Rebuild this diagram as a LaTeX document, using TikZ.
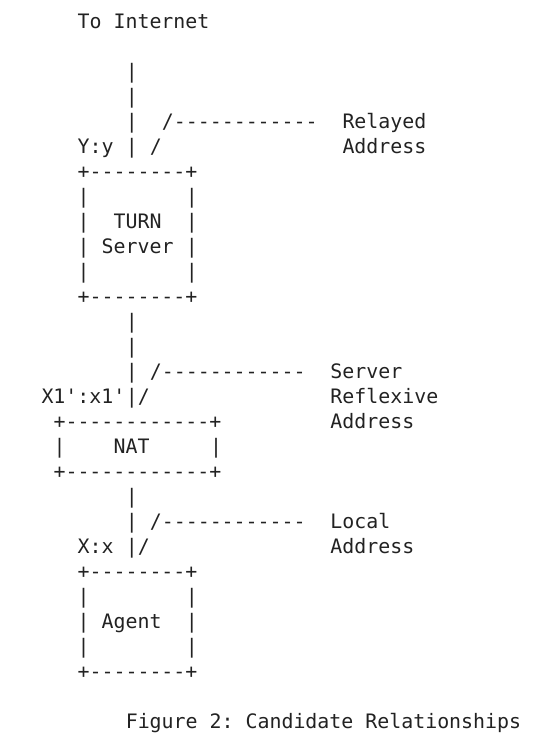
\documentclass[tikz,border=0pt]{standalone}
\usepackage{fontspec}
\setmonofont{DejaVu Sans Mono}
\definecolor{ink}{HTML}{222222}
\newcommand{\colw}{12.04}
\newcommand{\xo}{41.5}
\newcommand{\yo}{28.3}
\newcommand{\rowh}{25}
% \A{name}{col}{row}{text}
\newcommand{\A}[4]{\node[txt] (#1) at ({\xo+\colw*#2},{\yo+\rowh*#3}) {#4};}
\begin{document}
\begin{tikzpicture}[x=1pt,y=-1pt,
  txt/.style={anchor=base west,inner sep=0pt,outer sep=0pt,text=ink,
    font=\ttfamily\fontsize{19.9}{25}\selectfont}]
\useasboundingbox (0,0) rectangle (547,743);
% row 0
\A{tointernet}{3}{0}{To Internet}
% relayed part
\A{v2}{7}{2}{|}
\A{v3}{7}{3}{|}
\A{v4}{7}{4}{|}
\A{relline}{10}{4}{/------------}
\A{relayed}{25}{4}{Relayed}
\A{yy}{3}{5}{Y:y}
\A{v5}{7}{5}{|}
\A{s5}{9}{5}{/}
\A{reladdr}{25}{5}{Address}
% TURN server box
\A{turntop}{3}{6}{+--------+}
\A{tl7}{3}{7}{|}\A{tr7}{12}{7}{|}
\A{tl8}{3}{8}{|}\A{turn}{6}{8}{TURN}\A{tr8}{12}{8}{|}
\A{tl9}{3}{9}{|}\A{server}{5}{9}{Server}\A{tr9}{12}{9}{|}
\A{tl10}{3}{10}{|}\A{tr10}{12}{10}{|}
\A{turnbot}{3}{11}{+--------+}
% server reflexive part
\A{v12}{7}{12}{|}
\A{v13}{7}{13}{|}
\A{v14}{7}{14}{|}
\A{srvline}{9}{14}{/------------}
\A{srvlabel}{24}{14}{Server}
\A{x1}{0}{15}{X1':x1'}
\A{v15}{7}{15}{|}
\A{s15}{8}{15}{/}
\A{reflexive}{24}{15}{Reflexive}
% NAT box
\A{nattop}{1}{16}{+------------+}
\A{srvaddr}{24}{16}{Address}
\A{nl17}{1}{17}{|}\A{nat}{6}{17}{NAT}\A{nr17}{14}{17}{|}
\A{natbot}{1}{18}{+------------+}
% local part
\A{v19}{7}{19}{|}
\A{v20}{7}{20}{|}
\A{locline}{9}{20}{/------------}
\A{local}{24}{20}{Local}
\A{xx}{3}{21}{X:x}
\A{v21}{7}{21}{|}
\A{s21}{8}{21}{/}
\A{locaddr}{24}{21}{Address}
% Agent box
\A{agtop}{3}{22}{+--------+}
\A{al23}{3}{23}{|}\A{ar23}{12}{23}{|}
\A{al24}{3}{24}{|}\A{agent}{5}{24}{Agent}\A{ar24}{12}{24}{|}
\A{al25}{3}{25}{|}\A{ar25}{12}{25}{|}
\A{agbot}{3}{26}{+--------+}
% caption
\A{caption}{7}{28}{Figure 2: Candidate Relationships}
\end{tikzpicture}
\end{document}
